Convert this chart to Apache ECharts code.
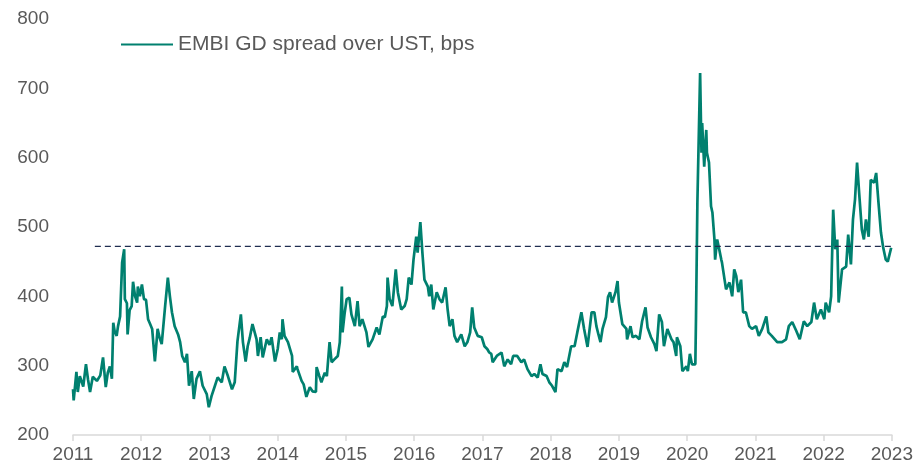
<!DOCTYPE html>
<html><head><meta charset="utf-8">
<script src="https://cdn.jsdelivr.net/npm/echarts@6/dist/echarts.min.js"></script>
<style>html,body{margin:0;padding:0;background:#fff}#c{width:916px;height:470px}</style>
</head><body><div id="c"></div>
<script>
const seriesName = 'EMBI GD spread over UST, bps';
const years = [
2011.00,2011.01,2011.05,2011.07,2011.10,2011.15,2011.19,2011.22,2011.25,2011.29,2011.35,2011.40,2011.44,2011.48,2011.51,2011.54,2011.57,2011.59,2011.61,2011.64,2011.66,2011.69,2011.72,2011.75,2011.76,2011.79,2011.80,2011.83,2011.86,2011.88,2011.91,2011.94,2011.95,2011.98,
2012.01,2012.04,2012.07,2012.10,2012.13,2012.16,2012.20,2012.24,2012.27,2012.30,2012.35,2012.39,2012.42,2012.45,2012.49,2012.54,2012.57,2012.60,2012.64,2012.67,2012.70,2012.74,2012.77,2012.81,2012.86,2012.90,2012.96,2012.99,
2013.03,2013.08,2013.12,2013.18,2013.22,2013.27,2013.33,2013.37,2013.41,2013.46,2013.49,2013.53,2013.56,2013.59,2013.63,2013.69,2013.71,2013.75,2013.78,2013.84,2013.88,2013.91,2013.96,
2014.00,2014.03,2014.06,2014.07,2014.10,2014.15,2014.21,2014.22,2014.28,2014.29,2014.35,2014.38,2014.42,2014.47,2014.51,2014.56,2014.57,2014.61,2014.64,2014.69,2014.72,2014.76,2014.79,2014.83,2014.88,2014.91,2014.94,2014.95,2014.98,
2015.01,2015.05,2015.08,2015.13,2015.17,2015.20,2015.24,2015.30,2015.33,2015.39,2015.45,2015.49,2015.54,2015.57,2015.60,2015.61,2015.64,2015.68,2015.73,2015.76,2015.81,2015.86,2015.89,2015.92,2015.96,2015.99,
2016.03,2016.05,2016.09,2016.12,2016.15,2016.20,2016.22,2016.25,2016.28,2016.33,2016.37,2016.41,2016.46,2016.49,2016.52,2016.56,2016.59,2016.63,2016.69,2016.74,2016.78,2016.82,2016.85,2016.88,2016.93,2016.99,
2017.03,2017.07,2017.10,2017.13,2017.15,2017.21,2017.28,2017.32,2017.37,2017.42,2017.45,2017.51,2017.57,2017.61,2017.66,2017.72,2017.76,2017.81,2017.85,2017.88,2017.94,2017.98,
2018.02,2018.07,2018.10,2018.16,2018.20,2018.24,2018.30,2018.35,2018.39,2018.45,2018.49,2018.54,2018.60,2018.64,2018.67,2018.70,2018.73,2018.76,2018.81,2018.84,2018.87,2018.90,2018.95,2018.98,
2019.00,2019.05,2019.11,2019.12,2019.17,2019.20,2019.25,2019.30,2019.34,2019.39,2019.42,2019.47,2019.52,2019.55,2019.59,2019.63,2019.66,2019.71,2019.77,2019.80,2019.84,2019.85,2019.90,2019.93,2019.99,
2020.01,2020.04,2020.07,2020.12,2020.13,2020.15,2020.16,2020.19,2020.21,2020.22,2020.25,2020.28,2020.29,2020.32,2020.35,2020.37,2020.40,2020.41,2020.44,2020.47,2020.50,2020.51,2020.57,2020.62,2020.66,2020.69,2020.72,2020.75,2020.79,2020.82,2020.86,2020.91,2020.95,
2021.01,2021.05,2021.10,2021.16,2021.19,2021.24,2021.32,2021.39,2021.45,2021.49,2021.54,2021.60,2021.65,2021.71,2021.76,2021.82,2021.86,2021.90,2021.96,
2022.01,2022.03,2022.08,2022.11,2022.14,2022.17,2022.20,2022.22,2022.27,2022.33,2022.36,2022.40,2022.43,2022.46,2022.49,2022.52,2022.56,2022.59,2022.62,2022.66,2022.69,2022.74,2022.77,2022.80,2022.84,2022.87,2022.91,2022.94,2022.99
];
const spread = [
266,250,291,262,285,270,302,280,262,284,278,286,312,269,290,299,281,362,350,343,357,371,449,468,396,390,345,380,386,421,400,391,414,400,
417,396,395,367,360,353,306,353,340,331,386,427,400,377,357,345,334,314,305,317,271,292,252,281,292,271,259,240,
256,271,283,276,299,285,266,276,335,374,334,306,328,340,360,338,314,341,312,338,330,341,306,
324,348,338,367,343,334,314,291,299,295,278,273,255,269,263,262,298,285,276,290,285,334,305,309,314,334,414,348,375,
396,398,374,357,393,357,367,348,327,338,355,345,371,370,386,427,396,386,439,406,381,386,396,427,417,453,
486,463,507,463,424,414,400,417,381,406,396,391,413,381,357,367,343,334,345,328,334,348,384,355,343,341,
328,324,319,317,305,314,319,299,309,302,314,314,305,309,295,285,288,283,302,288,285,276,
271,262,295,292,305,298,328,328,348,377,353,327,377,377,357,345,334,353,370,399,406,391,406,422,
391,360,353,338,357,341,343,338,364,384,355,341,331,321,374,363,328,353,338,334,314,341,328,292,299,
292,317,302,302,371,535,583,722,607,650,587,640,607,593,530,521,482,453,482,468,453,449,410,420,400,439,429,406,424,377,377,357,353,
357,343,353,371,348,343,334,334,338,357,363,350,338,364,357,363,391,367,381,
367,391,377,400,525,468,482,391,439,443,489,446,511,540,593,550,496,482,511,486,568,564,578,540,492,472,453,450,470
];
const refYears = [2011.32, 2023.07];
const refLevel = 472;
const yTicks = [200, 300, 400, 500, 600, 700, 800];
const xTicks = [2011, 2012, 2013, 2014, 2015, 2016, 2017, 2018, 2019, 2020, 2021, 2022, 2023];

const lineData = years.map((y, i) => [y, spread[i]]);
const refData = refYears.map(y => [y, refLevel]);
const font = '"Liberation Sans", Arial, sans-serif';

const chart = echarts.init(document.getElementById('c'), null, {renderer: 'canvas'});
chart.setOption({
  animation: false,
  backgroundColor: '#ffffff',
  textStyle: {fontFamily: font},
  grid: {left: 73, right: 23, top: 19, bottom: 35, containLabel: false},
  legend: {
    data: [{name: seriesName, icon: 'rect'}],
    left: 121, top: 34, padding: 0,
    itemWidth: 52, itemHeight: 2,
    textStyle: {fontFamily: font, fontSize: 21, color: '#595959'}
  },
  xAxis: {
    type: 'value', min: xTicks[0], max: xTicks[xTicks.length - 1], interval: 1,
    axisLine: {show: true, lineStyle: {color: '#d9d9d9', width: 1.5}},
    axisTick: {show: true, inside: false, length: 6, lineStyle: {color: '#d9d9d9', width: 1.5}},
    splitLine: {show: false},
    axisLabel: {fontFamily: font, fontSize: 19, color: '#595959', margin: 10, formatter: v => String(Math.round(v))}
  },
  yAxis: {
    type: 'value', min: yTicks[0], max: yTicks[yTicks.length - 1], interval: 100,
    axisLine: {show: false}, axisTick: {show: false}, splitLine: {show: false},
    axisLabel: {fontFamily: font, fontSize: 19, color: '#595959', margin: 24}
  },
  series: [
    {
      name: seriesName, type: 'line', data: lineData, showSymbol: false, symbol: 'none',
      lineStyle: {color: '#00806f', width: 2.7}, itemStyle: {color: '#00806f'}, z: 2
    },
    {
      name: 'ref', type: 'line', data: refData, showSymbol: false, symbol: 'none', clip: false,
      lineStyle: {color: '#1f2d50', width: 1.2, type: [6, 4]}, silent: true, z: 3
    }
  ]
});
</script></body></html>
